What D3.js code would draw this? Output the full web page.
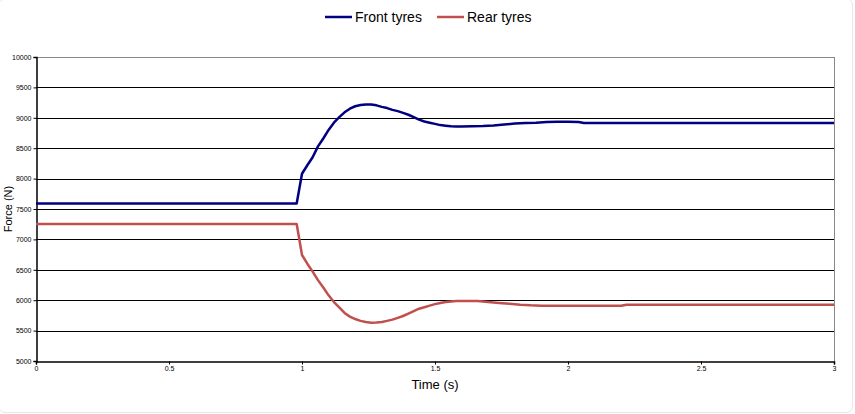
<!DOCTYPE html>
<html>
<head>
<meta charset="utf-8">
<script src="https://cdn.jsdelivr.net/npm/d3@7"></script>
<style>
  body { margin: 0; background: #fff; }
  svg { display: block; font-family: "Liberation Sans", Arial, sans-serif; }
</style>
</head>
<body>
<svg id="chart" width="855" height="414"></svg>
<script>
// time (s) and force (N)
const frontTime = [0, 0.98, 1.0, 1.02, 1.04, 1.06, 1.08, 1.10, 1.12, 1.14, 1.16, 1.18, 1.20, 1.22, 1.24, 1.26, 1.28, 1.30, 1.32, 1.34, 1.36, 1.38, 1.40, 1.42, 1.44, 1.46, 1.48, 1.50, 1.52, 1.54, 1.56, 1.58, 1.60, 1.64, 1.68, 1.72, 1.76, 1.80, 1.84, 1.88, 1.92, 1.96, 2.00, 2.04, 2.06, 3.0];
const frontForce = [7590, 7590, 8080, 8220, 8350, 8530, 8660, 8800, 8920, 9010, 9090, 9150, 9190, 9210, 9220, 9220, 9205, 9180, 9160, 9130, 9110, 9080, 9050, 9010, 8970, 8940, 8920, 8900, 8880, 8870, 8860, 8855, 8855, 8860, 8865, 8875, 8890, 8905, 8915, 8920, 8930, 8935, 8935, 8930, 8915, 8915];

const rearTime = [0, 0.98, 1.0, 1.02, 1.04, 1.06, 1.08, 1.10, 1.12, 1.14, 1.16, 1.18, 1.20, 1.22, 1.24, 1.26, 1.28, 1.30, 1.32, 1.34, 1.36, 1.38, 1.40, 1.42, 1.44, 1.46, 1.48, 1.50, 1.52, 1.54, 1.56, 1.58, 1.62, 1.66, 1.70, 1.74, 1.78, 1.82, 1.86, 1.90, 2.0, 2.1, 2.2, 2.22, 3.0];
const rearForce = [7253, 7253, 6743, 6600, 6470, 6330, 6210, 6080, 5970, 5880, 5790, 5730, 5690, 5660, 5640, 5630, 5632, 5640, 5660, 5680, 5710, 5740, 5780, 5820, 5860, 5885, 5910, 5935, 5955, 5970, 5980, 5985, 5988, 5985, 5970, 5955, 5940, 5925, 5915, 5910, 5908, 5908, 5908, 5925, 5925];

const xTicks = [0, 0.5, 1, 1.5, 2, 2.5, 3];
const yTicks = [5000, 5500, 6000, 6500, 7000, 7500, 8000, 8500, 9000, 9500, 10000];

const seriesNames = ["Front tyres", "Rear tyres"];
const seriesColors = ["#000080", "#C0504D"];

const svg = d3.select("#chart");
const margin = { left: 36, right: 21, top: 57, bottom: 53 };
const width = 855, height = 414;

// outer chart frame
svg.append("rect")
    .attr("x", -1).attr("y", -1)
    .attr("width", 853.5).attr("height", 413.5)
    .attr("rx", 6)
    .attr("fill", "#fff")
    .attr("stroke", "#e6e6ee");

const x = d3.scaleLinear().domain([0, 3]).range([margin.left, width - margin.right]);
const y = d3.scaleLinear().domain([5000, 10000]).range([height - margin.bottom, margin.top]);

// gridlines
svg.append("g")
    .selectAll("line")
    .data(yTicks.slice(1))
    .join("line")
    .attr("x1", x(0)).attr("x2", x(3))
    .attr("y1", d => Math.round(y(d)) + 0.5)
    .attr("y2", d => Math.round(y(d)) + 0.5)
    .attr("stroke", d => d === 10000 ? "#888" : "#000")
    .attr("stroke-width", 1);

// right border of plot
svg.append("line")
    .attr("x1", Math.round(x(3)) + 0.5).attr("x2", Math.round(x(3)) + 0.5)
    .attr("y1", y(10000)).attr("y2", y(5000))
    .attr("stroke", "#888");

// axes
const yAxis = svg.append("g")
    .attr("transform", `translate(${Math.round(x(0)) + 0.5},0)`)
    .call(d3.axisLeft(y).tickValues(yTicks).tickSize(3).tickFormat(d3.format("d")));
yAxis.select(".domain").attr("stroke", "#000").attr("stroke-width", 1.5);
yAxis.selectAll(".tick line").attr("stroke", "#000");
yAxis.selectAll("text").attr("font-size", 7).attr("fill", "#000").attr("x", -5);

const xAxis = svg.append("g")
    .attr("transform", `translate(0,${Math.round(y(5000)) + 0.5})`)
    .call(d3.axisBottom(x).tickValues(xTicks).tickSize(3).tickFormat(d => String(d)));
xAxis.select(".domain").attr("stroke", "#000").attr("stroke-width", 1.5);
xAxis.selectAll(".tick line").attr("stroke", "#000");
xAxis.selectAll("text").attr("font-size", 7).attr("fill", "#000").attr("y", 5);

// axis titles
svg.append("text")
    .attr("x", (x(0) + x(3)) / 2)
    .attr("y", 389)
    .attr("text-anchor", "middle")
    .attr("font-size", 13)
    .text("Time (s)");

svg.append("text")
    .attr("transform", `translate(12,${(y(5000) + y(10000)) / 2}) rotate(-90)`)
    .attr("text-anchor", "middle")
    .attr("font-size", 11)
    .text("Force (N)");

// lines
const line = d3.line().x(d => x(d[0])).y(d => y(d[1]));
const seriesData = [
    d3.zip(frontTime, frontForce),
    d3.zip(rearTime, rearForce)
];
svg.append("g")
    .selectAll("path")
    .data(seriesData)
    .join("path")
    .attr("d", line)
    .attr("fill", "none")
    .attr("stroke", (d, i) => seriesColors[i])
    .attr("stroke-width", 2.5)
    .attr("stroke-linejoin", "round");

// legend
const legendX = [325, 437];
const legend = svg.append("g")
    .selectAll("g")
    .data(seriesNames)
    .join("g")
    .attr("transform", (d, i) => `translate(${legendX[i]},17)`);
legend.append("line")
    .attr("x1", 0).attr("x2", 27)
    .attr("stroke", (d, i) => seriesColors[i])
    .attr("stroke-width", 2.5);
legend.append("text")
    .attr("x", 30)
    .attr("y", 5)
    .attr("font-size", 14)
    .text(d => d);
</script>
</body>
</html>
